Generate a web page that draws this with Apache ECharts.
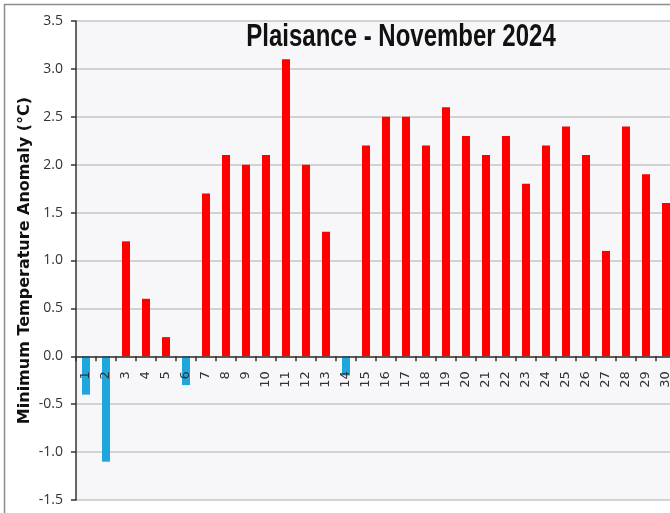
<!DOCTYPE html>
<html>
<head>
<meta charset="utf-8">
<script src="https://cdn.jsdelivr.net/npm/echarts@6/dist/echarts.min.js"></script>
<style>
    html, body { margin: 0; padding: 0; background: #ffffff; }
    #chart { width: 670px; height: 513px; }
</style>
</head>
<body>
<div id="chart"></div>
<script type="text/javascript">
    // days of November 2024 and min temperature anomaly (°C)
    var days = [];
    for (var d = 1; d <= 30; d++) { days.push(String(d)); }
    var anomaly = [-0.4, -1.1, 1.2, 0.6, 0.2, -0.3, 1.7, 2.1, 2.0, 2.1,
                   3.1, 2.0, 1.3, -0.2, 2.2, 2.5, 2.5, 2.2, 2.6, 2.3,
                   2.1, 2.3, 1.8, 2.2, 2.4, 2.1, 1.1, 2.4, 1.9, 1.6];
    var yTicks = [-1.5, 3.5, 0.5]; // min, max, step

    var gridTop = 21, gridBottom = 13;
    var gridH = 513 - gridTop - gridBottom;
    // lift the category axis (line, ticks and labels) up to y = 0
    var zeroOffset = -(0 - yTicks[0]) / (yTicks[1] - yTicks[0]) * gridH;

    var chart = echarts.init(document.getElementById('chart'));

    var option = {
        animation: false,
        backgroundColor: '#ffffff',
        graphic: [{
            type: 'rect',
            z: -1,
            silent: true,
            shape: { x: 4.5, y: 4.5, width: 800, height: 700 },
            style: { fill: 'none', stroke: '#8c8c8c', lineWidth: 1.5 }
        }, {
            // title, squeezed like the original narrow font
            type: 'text',
            x: 401,
            y: 21,
            scaleX: 0.75,
            z: 10,
            style: {
                text: 'Plaisance - November 2024',
                font: 'bold 32px "Liberation Sans", sans-serif',
                fill: '#111111',
                textAlign: 'center',
                textVerticalAlign: 'top'
            }
        }],
        grid: {
            left: 76,
            top: gridTop,
            width: 600,
            bottom: gridBottom,
            outerBoundsMode: 'none',
            containLabel: false,
            show: true,
            backgroundColor: '#f7f6f9',
            borderWidth: 0
        },
        xAxis: {
            type: 'category',
            data: days,
            offset: zeroOffset,
            z: 5,
            axisLine: { onZero: false, lineStyle: { color: '#333333', width: 1.5 } },
            axisTick: { show: true, length: 5, lineStyle: { color: '#333333', width: 1.5 } },
            axisLabel: {
                rotate: 90,
                margin: 15,
                interval: 0,
                fontFamily: '"DejaVu Sans", sans-serif',
                fontSize: 13,
                color: '#333333'
            },
            splitLine: { show: false }
        },
        yAxis: {
            type: 'value',
            min: yTicks[0],
            max: yTicks[1],
            interval: yTicks[2],
            name: 'Minimum Temperature Anomaly (°C)',
            nameLocation: 'middle',
            nameRotate: 90,
            nameGap: 43,
            nameMoveOverlap: false,
            nameTextStyle: {
                fontFamily: '"DejaVu Sans", sans-serif',
                fontWeight: 'bold',
                fontSize: 16,
                color: '#111111'
            },
            axisLine: { show: true, lineStyle: { color: '#333333', width: 1.5 } },
            axisTick: { show: true, length: 5, lineStyle: { color: '#333333', width: 1.5 } },
            axisLabel: {
                margin: 13,
                fontFamily: '"Open Sans", sans-serif',
                fontSize: 14,
                color: '#333333',
                formatter: function (v) { return v.toFixed(1); }
            },
            splitLine: { show: true, lineStyle: { color: '#c6c6c6', width: 1.5 } }
        },
        series: [{
            type: 'bar',
            data: anomaly,
            barWidth: 8,
            itemStyle: {
                color: function (p) { return p.value < 0 ? '#1ea6dd' : '#ff0000'; }
            }
        }]
    };

    chart.setOption(option);
</script>
</body>
</html>
